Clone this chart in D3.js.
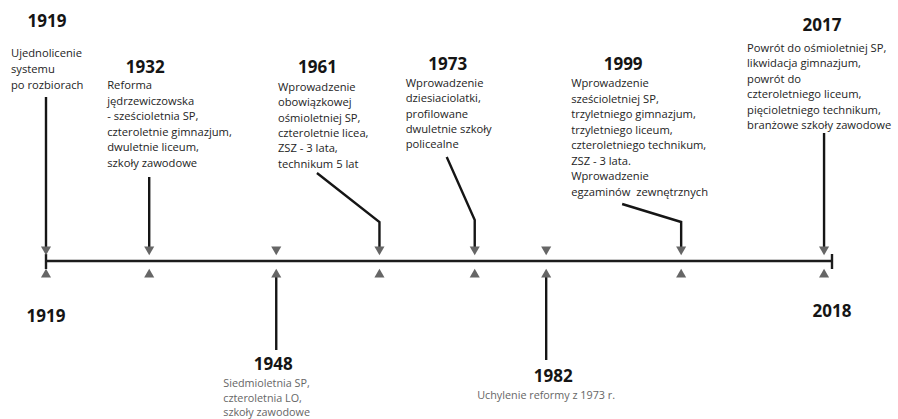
<!DOCTYPE html>
<html>
<head>
<meta charset="utf-8">
<script src="https://cdn.jsdelivr.net/npm/d3@7"></script>
<style>
  body { margin: 0; background: #fff; }
  svg { display: block; }
  .year { font-family: "Open Sans", sans-serif; font-weight: 700; font-size: 17px; fill: #151515; }
  .desc { font-family: "Open Sans", sans-serif; font-size: 11.2px; fill: #242424; }
  .desc.low { fill: #666; font-size: 10.8px; }
</style>
</head>
<body>
<div id="chart-container"></div>
<script>
// timeline data
const startYear = 1919;
const endYear = 2018;
const years = [1919, 1932, 1948, 1961, 1973, 1982, 1999, 2017];
const sides = ["top", "top", "bottom", "top", "top", "bottom", "top", "top"];
const descriptions = [
  ["Ujednolicenie", "systemu", "po rozbiorach"],
  ["Reforma", "jędrzewiczowska", "- sześcioletnia SP,", "czteroletnie gimnazjum,", "dwuletnie liceum,", "szkoły zawodowe"],
  ["Siedmioletnia SP,", "czteroletnia LO,", "szkoły zawodowe"],
  ["Wprowadzenie", "obowiązkowej", "ośmioletniej SP,", "czteroletnie licea,", "ZSZ - 3 lata,", "technikum 5 lat"],
  ["Wprowadzenie", "dziesiaciolatki,", "profilowane", "dwuletnie szkoły", "policealne"],
  ["Uchylenie reformy z 1973 r."],
  ["Wprowadzenie", "sześcioletniej SP,", "trzyletniego gimnazjum,", "trzyletniego liceum,", "czteroletniego technikum,", "ZSZ - 3 lata.", "Wprowadzenie", "egzaminów  zewnętrznych"],
  ["Powrót do ośmioletniej SP,", "likwidacja gimnazjum,", "powrót do", "czteroletniego liceum,", "pięcioletniego technikum,", "branżowe szkoły zawodowe"]
];

// label layout (offsets from the marker position)
const titleDx = [1, -4, -3, -62, -27, 7, -58, -2];
const titleY  = [27, 73, 370, 73, 70, 382, 70, 31];
const textDx  = [-35, -42, -53, -101.5, -69, -69, -110, -77];
const textY   = [57, 89, 387, 91, 87, 399, 87, 52];
const lineH   = [16.2, 15.6, 14.5, 15.3, 15.3, 15, 15.5, 15.4];
const linkStart = [[0, 97], [0, 177], [0, 350], [-62.5, 173], [-28, 157], [0, 360], [-59, 204], [0, 133]];
const kneeY = [null, null, null, 222, 220, null, 222, null];

const width = 898, height = 419;
const axisY = 261;

const svg = d3.select("#chart-container").append("svg")
  .attr("width", width)
  .attr("height", height);

const x = d3.scaleLinear()
  .domain([startYear, endYear])
  .range([46, 832]);

// main line with end caps
svg.append("line")
  .attr("x1", x(startYear)).attr("x2", x(endYear))
  .attr("y1", axisY).attr("y2", axisY)
  .attr("stroke", "#1c1c1c").attr("stroke-width", 2.6);

[startYear, endYear].forEach(function(y) {
  svg.append("line")
    .attr("x1", x(y)).attr("x2", x(y))
    .attr("y1", axisY - 7).attr("y2", axisY + 8)
    .attr("stroke", "#1c1c1c").attr("stroke-width", 2.4);
});

// connectors
let events = years.map((y, i) => ({year: y, i: i}));

let links = svg.append("g").attr("id", "links")
  .selectAll("path")
  .data(events).enter()
  .append("path")
  .attr("fill", "none")
  .attr("stroke", "#151515")
  .attr("stroke-width", 2.4)
  .attr("d", function(d) {
    let mx = x(d.year);
    let s = linkStart[d.i];
    let pts;
    if (sides[d.i] == "top") {
      if (kneeY[d.i] != null) {
        pts = [[mx + s[0], s[1]], [mx, kneeY[d.i]], [mx, 247]];
      } else {
        pts = [[mx, s[1]], [mx, 247]];
      }
    } else {
      pts = [[mx, 277], [mx, s[1]]];
    }
    return d3.line()(pts);
  });

// arrow heads above and below the line
const tri = d3.symbol().type(d3.symbolTriangle).size(44);

svg.append("g").attr("id", "tri-down")
  .selectAll("path")
  .data(events).enter()
  .append("path")
  .attr("d", tri)
  .attr("fill", "#666")
  .attr("transform", (d) => "translate(" + x(d.year) + "," + 249.5 + ") rotate(180)");

svg.append("g").attr("id", "tri-up")
  .selectAll("path")
  .data(events).enter()
  .append("path")
  .attr("d", tri)
  .attr("fill", "#666")
  .attr("transform", (d) => "translate(" + x(d.year) + "," + 274.5 + ")");

// year titles
svg.append("g").attr("id", "titles")
  .selectAll("text")
  .data(events).enter()
  .append("text")
  .attr("class", "year")
  .attr("text-anchor", "middle")
  .attr("x", (d) => x(d.year) + titleDx[d.i])
  .attr("y", (d) => titleY[d.i])
  .text((d) => d.year);

// descriptions
let descs = svg.append("g").attr("id", "descs")
  .selectAll("text")
  .data(events).enter()
  .append("text")
  .attr("class", (d) => sides[d.i] == "bottom" ? "desc low" : "desc")
  .attr("x", (d) => x(d.year) + textDx[d.i])
  .attr("y", (d) => textY[d.i]);

descs.selectAll("tspan")
  .data((d) => descriptions[d.i].map((t, k) => ({t: t, k: k, d: d})))
  .enter()
  .append("tspan")
  .attr("x", (e) => x(e.d.year) + textDx[e.d.i])
  .attr("y", (e) => textY[e.d.i] + e.k * lineH[e.d.i])
  .style("white-space", "pre")
  .text((e) => e.t);

// range labels under the axis ends
svg.append("g").attr("id", "range")
  .selectAll("text")
  .data([[startYear, 322], [endYear, 317]]).enter()
  .append("text")
  .attr("class", "year")
  .attr("text-anchor", "middle")
  .attr("x", (d) => x(d[0]))
  .attr("y", (d) => d[1])
  .text((d) => d[0]);
</script>
</body>
</html>
